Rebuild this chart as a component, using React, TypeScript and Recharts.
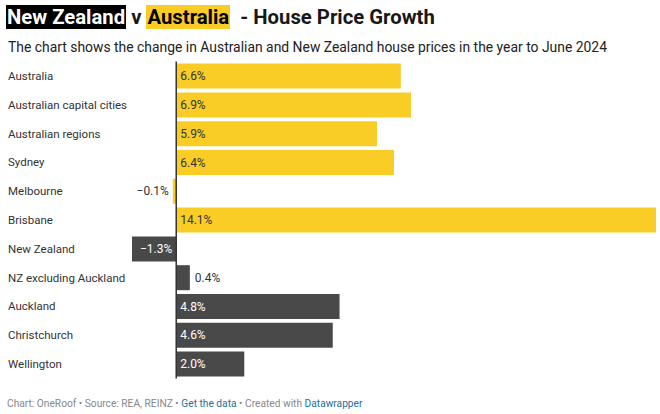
import React from "react";
import { BarChart, Bar, XAxis, YAxis, Cell, ReferenceLine, LabelList } from "recharts";

const categories = [
  "Australia",
  "Australian capital cities",
  "Australian regions",
  "Sydney",
  "Melbourne",
  "Brisbane",
  "New Zealand",
  "NZ excluding Auckland",
  "Auckland",
  "Christchurch",
  "Wellington",
];
const values = [6.6, 6.9, 5.9, 6.4, -0.1, 14.1, -1.3, 0.4, 4.8, 4.6, 2.0];
const countries = ["AU", "AU", "AU", "AU", "AU", "AU", "NZ", "NZ", "NZ", "NZ", "NZ"];

const YELLOW = "#f9cd25";
const DARK = "#494949";
const FONT = "Roboto, 'Noto Sans', sans-serif";

const data = categories.map((c, i) => ({ name: c, value: values[i], country: countries[i] }));

const fmt = (v: number) => (v < 0 ? "\u2212" : "") + Math.abs(v).toFixed(1) + "%";

const CatTick = (props: any) => {
  const { y, payload } = props;
  return (
    <text x={8} y={y} dy={4} fontSize={11.5} fill="#333" fontFamily={FONT} textAnchor="start">
      {payload.value}
    </text>
  );
};

const ValueLabel = (props: any) => {
  const { x, y, width, height, value, index } = props;
  const left = Math.min(x, x + width);
  const right = Math.max(x, x + width);
  const w = right - left;
  const txt = fmt(value);
  const tw = txt.length * 6.5 + 4;
  const cy = y + height / 2 + 4;
  const dark = countries[index] === "NZ";
  if (value >= 0) {
    if (w > tw + 4) {
      return (
        <text x={left + 4} y={cy} fontSize={12} fill={dark ? "#fff" : "#333"} fontFamily={FONT}>
          {txt}
        </text>
      );
    }
    return (
      <text x={right + 5} y={cy} fontSize={12} fill="#333" fontFamily={FONT}>
        {txt}
      </text>
    );
  }
  if (w > tw + 4) {
    return (
      <text x={right - 4} y={cy} fontSize={12} textAnchor="end" fill={dark ? "#fff" : "#333"} fontFamily={FONT}>
        {txt}
      </text>
    );
  }
  return (
    <text x={left - 4} y={cy} fontSize={12} textAnchor="end" fill="#333" fontFamily={FONT}>
      {txt}
    </text>
  );
};

export default function App() {
  return (
    <div style={{ position: "absolute", left: 0, top: 0, width: 660, height: 414, background: "#fff", fontFamily: FONT }}>
      <div style={{ position: "absolute", left: 6, top: 4, fontSize: 20.3, fontWeight: 700, color: "#181818", whiteSpace: "pre", lineHeight: "26px" }}>
        <span style={{ background: "#000", color: "#fff", padding: "0 1px" }}>New Zealand</span>
        {" v "}
        <span style={{ background: YELLOW, color: "#000", padding: "0 1px" }}>Australia</span>
        {"  - House Price Growth"}
      </div>
      <div style={{ position: "absolute", left: 8, top: 38, fontSize: 13.9, color: "#222", whiteSpace: "nowrap", lineHeight: "18px" }}>
        The chart shows the change in Australian and New Zealand house prices in the year to June 2024
      </div>
      <div style={{ position: "absolute", left: 0, top: 0 }}>
        <BarChart
          width={660}
          height={414}
          data={data}
          layout="vertical"
          margin={{ top: 61.6, right: 4, bottom: 35.6, left: 0 }}
          barSize={25}
        >
          <XAxis type="number" domain={[-1.3, 14.1]} hide />
          <YAxis type="category" dataKey="name" width={132} axisLine={false} tickLine={false} tick={<CatTick />} interval={0} />
          <Bar dataKey="value" isAnimationActive={false}>
            {data.map((d, i) => (
              <Cell key={i} fill={d.country === "AU" ? YELLOW : DARK} />
            ))}
            <LabelList dataKey="value" content={<ValueLabel />} />
          </Bar>
          <ReferenceLine x={0} stroke="#333" strokeWidth={1.5} ifOverflow="extendDomain" />
        </BarChart>
      </div>
      <div style={{ position: "absolute", left: 7, top: 397, fontSize: 10.2, color: "#888", whiteSpace: "nowrap", lineHeight: "13px" }}>
        Chart: OneRoof • Source: REA, REINZ • <span style={{ color: "#1d6f9e" }}>Get the data</span> • Created with{" "}
        <span style={{ color: "#1d6f9e" }}>Datawrapper</span>
      </div>
    </div>
  );
}
